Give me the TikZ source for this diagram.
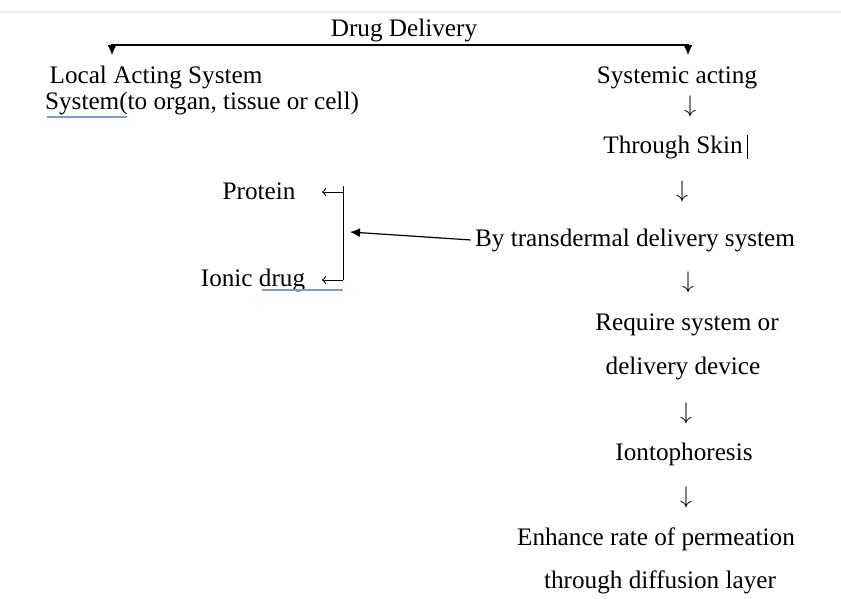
\documentclass[tikz,border=0pt]{standalone}
\usepackage{fontspec}
\setmainfont{Liberation Serif}
\usetikzlibrary{arrows.meta}
\definecolor{spellblue}{RGB}{128,158,196}

\begin{document}
\begin{tikzpicture}[x=0.5pt,y=-0.5pt]
    \tikzset{
        txt/.style={anchor=base,inner sep=0pt,font=\fontsize{12.6}{15}\selectfont},
        down/.style={anchor=center,inner sep=0pt,font=\fontsize{12.6}{15}\selectfont},
        conn/.style={line width=0.6pt,-{Latex[length=5pt,width=4.5pt]}},
        small/.style={line width=0.5pt,-to},
        wavy/.style={spellblue,line width=1.1pt}
    }
    % page
    \fill[white] (0,0) rectangle (841,599);
    \useasboundingbox (0,0) rectangle (841,599);
    \draw[black!8,line width=0.6pt] (0,12) -- (841,12);

    % top
    \node[txt] (dd) at (404,37) {Drug Delivery};
    \coordinate (ltop) at (112,45);
    \coordinate (rtop) at (688,45);
    \coordinate (lend) at (112,55);
    \coordinate (rend) at (688,55);
    \draw[conn] (ltop) -- (rtop) -- (rend);
    \draw[conn] (rtop) -- (ltop) -- (lend);

    % left branch
    \node[txt] (local) at (156,84) {Local Acting System};
    \node[txt] (organ) at (202,110) {System(to organ, tissue or cell)};
    \draw[wavy] (47,117) -- (127,117);

    % right branch
    \node[txt] (sys) at (677,84) {Systemic acting};
    \node[down] (a1) at (690,107) {$\downarrow$};
    \node[txt] (skin) at (673,154) {Through Skin};
    \draw[line width=0.5pt] (747,135) -- (747,159);
    \node[down] (a2) at (682,192) {$\downarrow$};
    \node[txt] (tds) at (635,246) {By transdermal delivery system};
    \node[down] (a3) at (688,282) {$\downarrow$};
    \node[txt] (req) at (687,330) {Require system or};
    \node[txt] (dev) at (683,374) {delivery device};
    \node[down] (a4) at (686,413) {$\downarrow$};
    \node[txt] (ionto) at (684,460) {Iontophoresis};
    \node[down] (a5) at (686,497) {$\downarrow$};
    \node[txt] (enh) at (656,545) {Enhance rate of permeation};
    \node[txt] (diff) at (660,588) {through diffusion layer};

    % protein / ionic drug
    \node[txt] (prot) at (259,199) {Protein};
    \node[txt] (ionic) at (253,286) {Ionic drug};
    \coordinate (btop) at (343,186);
    \coordinate (bbot) at (343,280);
    \coordinate (bmid) at (350,232);
    \draw[line width=0.5pt] (btop) -- (bbot);
    \draw[small] (btop |- 0,192) -- (322,192);
    \draw[small] (bbot) -- (322,280);
    \draw[wavy] (262,290) -- (343,290);
    \draw[conn] (tds.west) ++(-4,0) -- (bmid);
\end{tikzpicture}
\end{document}
